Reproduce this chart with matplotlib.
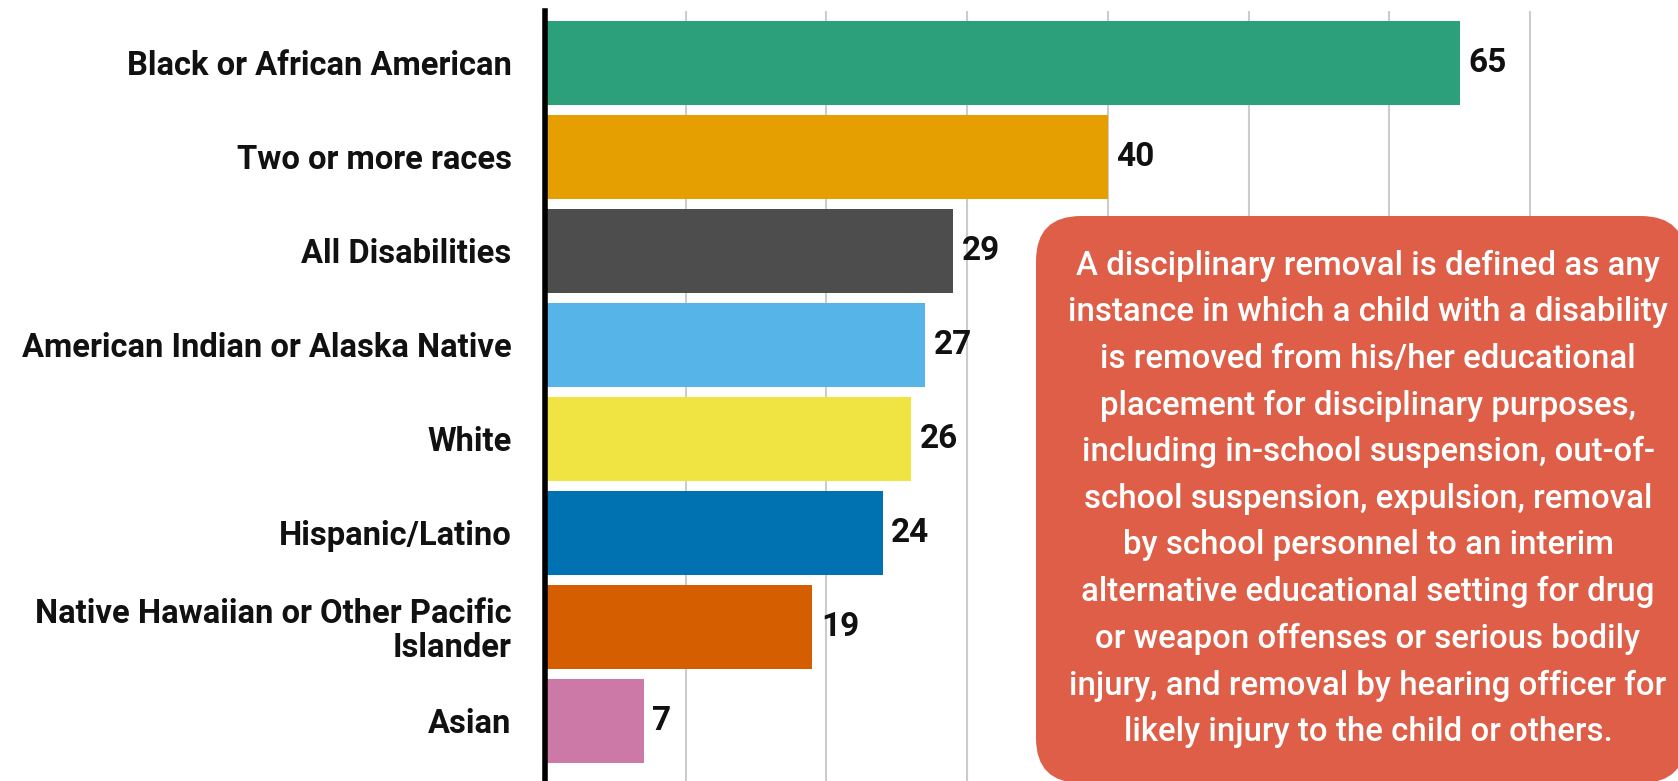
import matplotlib
matplotlib.use("Agg")
import matplotlib.pyplot as plt
from matplotlib.patches import FancyBboxPatch
from matplotlib.transforms import IdentityTransform

categories = ["Black or African American", "Two or more races", "All Disabilities",
              "American Indian or Alaska Native", "White", "Hispanic/Latino",
              "Native Hawaiian or Other Pacific\nIslander", "Asian"]
values = [65, 40, 29, 27, 26, 24, 19, 7]
colors = ["#2CA07A", "#E69F00", "#4D4D4D", "#56B4E9", "#F0E442", "#0072B2", "#D55E00", "#CC79A7"]
note = ("A disciplinary removal is defined as any\n"
        "instance in which a child with a disability\n"
        "is removed from his/her educational\n"
        "placement for disciplinary purposes,\n"
        "including in-school suspension, out-of-\n"
        "school suspension, expulsion, removal\n"
        "by school personnel to an interim\n"
        "alternative educational setting for drug\n"
        "or weapon offenses or serious bodily\n"
        "injury, and removal by hearing officer for\n"
        "likely injury to the child or others.")

plt.rcParams['font.family'] = ['Roboto', 'DejaVu Sans']

W, H = 1678, 781
fig = plt.figure(figsize=(W / 100, H / 100), dpi=100)
ax = fig.add_axes([545 / W, 0, 1 - 545 / W, 1 - 11 / H])

y = list(range(len(categories)))
ax.barh(y, values, height=0.89, color=colors, zorder=3)
for yi, v in zip(y, values):
    ax.text(v + 0.6, yi, str(v), va="center", ha="left", fontsize=24,
            fontweight="bold", color="#111111", zorder=4)

ax.set_ylim(7.64, -0.55)
ax.set_xlim(0, 80.5)
ax.set_yticks(y)
ax.set_yticklabels(categories, fontsize=23.6, fontweight="bold", color="#111111",
                   ha="right", linespacing=1.05)
ax.tick_params(axis="y", length=0, pad=24)
ax.tick_params(axis="x", length=0, labelbottom=False)
ax.set_xticks(range(10, 80, 10))
ax.grid(axis="x", color="#CCCCCC", linewidth=1.5, zorder=0)
for s in ["top", "right", "bottom"]:
    ax.spines[s].set_visible(False)
ax.spines["left"].set_linewidth(4)
ax.spines["left"].set_color("black")
ax.spines["left"].set_zorder(5)

# box in pixel coords (origin bottom-left)
bx0, bx1 = 1036, 1686
by_top, by_bot = 216, 783
box = FancyBboxPatch((bx0, H - by_bot), bx1 - bx0, by_bot - by_top,
                     boxstyle="round,pad=0,rounding_size=45",
                     transform=IdentityTransform(), facecolor="#DE5E47", edgecolor="none",
                     zorder=10)
fig.patches.append(box)
fig.text(1368 / W, 1 - 499 / H, note, ha="center", va="center", fontsize=23.8,
         fontweight="medium", color="white", linespacing=1.58, zorder=11)

fig.savefig("out.png", dpi=100)
